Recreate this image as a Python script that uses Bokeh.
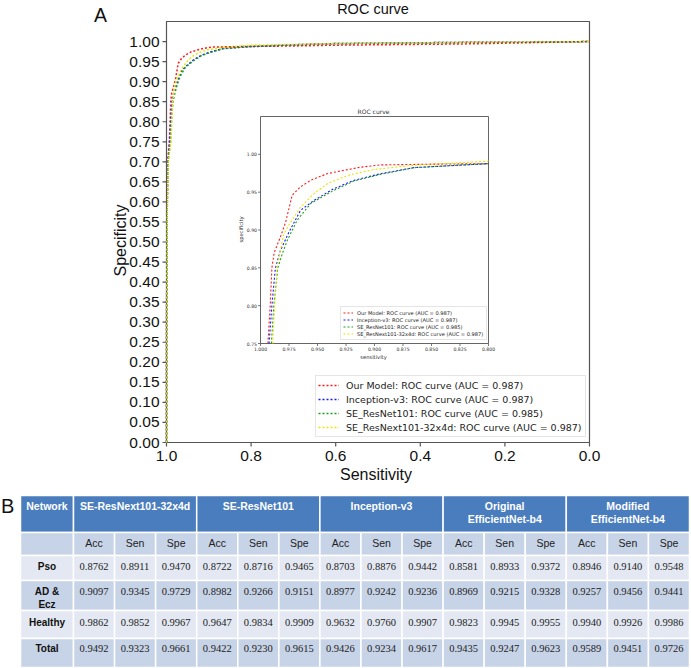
import numpy as np
from bokeh.plotting import figure
from bokeh.models import Range1d, Legend, LegendItem
from bokeh.embed import file_html
from bokeh.resources import INLINE
from bokeh.core.properties import value

# ---------------- data ----------------
model_names = ["Our Model", "Inception-v3", "SE_ResNet101", "SE_ResNext101-32x4d"]
model_auc = [0.987, 0.987, 0.985, 0.987]
model_colors = ["#ff1a1a", "#1a1aff", "#1f9f1f", "#e6e600"]

red_sens = [1.000, 0.9998, 0.9990, 0.9970, 0.9935, 0.9915, 0.9900, 0.9880, 0.9825, 0.9780, 0.9722,
            0.9650, 0.9560, 0.9415, 0.9298, 0.9123, 0.8947, 0.8500, 0.8000, 0.7000, 0.6000, 0.5000,
            0.4000, 0.3000, 0.2000, 0.1000, 0.0000]
red_spec = [0.000, 0.300, 0.550, 0.700, 0.750, 0.800, 0.850, 0.870, 0.891, 0.910, 0.946,
            0.957, 0.9656, 0.9744, 0.978, 0.983, 0.986, 0.9870, 0.9877, 0.989, 0.991, 0.992,
            0.993, 0.994, 0.996, 0.998, 1.000]

blue_sens = [1.000, 0.9998, 0.9990, 0.9965, 0.9925, 0.9900, 0.9870, 0.9825, 0.9751, 0.9649, 0.9532,
             0.9357, 0.9180, 0.8947, 0.8655, 0.8000, 0.7000, 0.6000, 0.5000, 0.4000, 0.3000, 0.2000,
             0.1000, 0.0000]
blue_spec = [0.000, 0.300, 0.550, 0.700, 0.750, 0.800, 0.849, 0.873, 0.897, 0.926, 0.939,
             0.9546, 0.9656, 0.9744, 0.9824, 0.9877, 0.992, 0.995, 0.996, 0.997, 0.998, 0.998,
             0.999, 1.000]

green_sens = [1.000, 0.9998, 0.9988, 0.9960, 0.9905, 0.9883, 0.9848, 0.9810, 0.9766, 0.9678, 0.9560,
              0.9357, 0.9180, 0.8947, 0.8655, 0.8000, 0.7000, 0.6000, 0.5000, 0.4000, 0.3000, 0.2000,
              0.1000, 0.0000]
green_spec = [0.000, 0.300, 0.550, 0.700, 0.750, 0.800, 0.850, 0.868, 0.886, 0.913, 0.935,
              0.9524, 0.9647, 0.9735, 0.9824, 0.9877, 0.992, 0.995, 0.996, 0.997, 0.998, 0.998,
              0.999, 1.000]

yellow_sens = [1.000, 0.9998, 0.9985, 0.9955, 0.9893, 0.9875, 0.9854, 0.9795, 0.9737, 0.9649, 0.9532,
               0.9415, 0.9240, 0.9006, 0.8655, 0.8000, 0.7000, 0.6000, 0.5000, 0.4000, 0.3000, 0.2000,
               0.1000, 0.0000]
yellow_spec = [0.000, 0.300, 0.550, 0.700, 0.750, 0.800, 0.851, 0.895, 0.910, 0.930, 0.948,
               0.961, 0.972, 0.980, 0.9855, 0.991, 0.993, 0.995, 0.996, 0.997, 0.998, 0.998,
               0.999, 1.000]

curves_sens = [red_sens, blue_sens, green_sens, yellow_sens]
curves_spec = [red_spec, blue_spec, green_spec, yellow_spec]

x_ticks = [1.0, 0.8, 0.6, 0.4, 0.2, 0.0]
y_ticks = [0.00, 0.05, 0.10, 0.15, 0.20, 0.25, 0.30, 0.35, 0.40, 0.45, 0.50,
           0.55, 0.60, 0.65, 0.70, 0.75, 0.80, 0.85, 0.90, 0.95, 1.00]
inset_x_ticks = [1.000, 0.975, 0.950, 0.925, 0.900, 0.875, 0.850, 0.825, 0.800]
inset_y_ticks = [0.75, 0.80, 0.85, 0.90, 0.95, 1.00]

networks = ["SE-ResNext101-32x4d", "SE-ResNet101", "Inception-v3",
            "Original\nEfficientNet-b4", "Modified\nEfficientNet-b4"]
metrics = ["Acc", "Sen", "Spe"]
classes = ["Pso", "AD &\nEcz", "Healthy", "Total"]
se_resnext101 = [[0.8762, 0.8911, 0.9470], [0.9097, 0.9345, 0.9729], [0.9862, 0.9852, 0.9967], [0.9492, 0.9323, 0.9661]]
se_resnet101 = [[0.8722, 0.8716, 0.9465], [0.8982, 0.9266, 0.9151], [0.9647, 0.9834, 0.9909], [0.9422, 0.9230, 0.9615]]
inception_v3 = [[0.8703, 0.8876, 0.9442], [0.8977, 0.9242, 0.9236], [0.9632, 0.9760, 0.9907], [0.9426, 0.9234, 0.9617]]
original_effb4 = [[0.8581, 0.8933, 0.9372], [0.8969, 0.9215, 0.9328], [0.9823, 0.9945, 0.9955], [0.9435, 0.9247, 0.9623]]
modified_effb4 = [[0.8946, 0.9140, 0.9548], [0.9257, 0.9456, 0.9441], [0.9940, 0.9926, 0.9986], [0.9589, 0.9451, 0.9726]]
table_values = [se_resnext101, se_resnet101, inception_v3, original_effb4, modified_effb4]

# ---------------- layout (pixel positions on the canvas) ----------------
CW, CH = 691, 668
FL, FR, FT, FB = 166, 589, 21, 442          # main plot box
XLIM = (1.0, 0.0)
YLIM = (0.0, 1.05)
IL, IR, IT, IB = 260, 488, 116, 343         # inset box
INSET_XLIM = (1.0, 0.8)
INSET_YLIM = (0.75, 1.05)

SANS = "Liberation Sans"
DJV = "DejaVu Sans"
AX_COL = "#555555"
TXT = "#111111"


def lin(m, a0, a1, b0, b1):
    return b0 + (m - a0) * (b1 - b0) / (a1 - a0)


PX_X = (FR - FL) / abs(XLIM[1] - XLIM[0])      # px per main unit
PX_Y = (FB - FT) / abs(YLIM[1] - YLIM[0])
IPX_X = (IR - IL) / abs(INSET_XLIM[1] - INSET_XLIM[0])
IPX_Y = (IB - IT) / abs(INSET_YLIM[1] - INSET_YLIM[0])

p = figure(width=CW, height=CH, min_border=0, output_backend="svg", toolbar_location=None,
           title=None, x_axis_location=None, y_axis_location=None,
           x_range=Range1d(lin(0, FL, FR, *XLIM), lin(CW, FL, FR, *XLIM)),
           y_range=Range1d(lin(CH, FB, FT, *YLIM), lin(0, FB, FT, *YLIM)))
p.grid.visible = False
p.outline_line_color = None
p.background_fill_color = "white"
p.extra_x_ranges = {"px": Range1d(0, CW),
                    "ix": Range1d(lin(0, IL, IR, *INSET_XLIM), lin(CW, IL, IR, *INSET_XLIM))}
p.extra_y_ranges = {"py": Range1d(CH, 0),
                    "iy": Range1d(lin(CH, IB, IT, *INSET_YLIM), lin(0, IB, IT, *INSET_YLIM))}
PK = dict(x_range_name="px", y_range_name="py")
IK = dict(x_range_name="ix", y_range_name="iy")

# ---------------- main axes ----------------
p.quad(left=[XLIM[0]], right=[XLIM[1]], bottom=[YLIM[0]], top=[YLIM[1]], fill_color=None,
       line_color=AX_COL, line_width=1.2)
p.segment(x0=[XLIM[0]] * len(y_ticks), y0=y_ticks, x1=[XLIM[0] + 4 / PX_X] * len(y_ticks), y1=y_ticks,
          line_color=AX_COL, line_width=1.2)
p.segment(x0=x_ticks, y0=[YLIM[0]] * len(x_ticks), x1=x_ticks, y1=[YLIM[0] - 4 / PX_Y] * len(x_ticks),
          line_color=AX_COL, line_width=1.2)
p.text(x=[XLIM[0] + 7 / PX_X] * len(y_ticks), y=y_ticks, text=["%.2f" % v for v in y_ticks],
       text_align="right", text_baseline="middle", text_font=value(SANS), text_font_size="15.5px",
       text_color=TXT)
p.text(x=x_ticks, y=[YLIM[0] - 8 / PX_Y] * len(x_ticks), text=["%.1f" % v for v in x_ticks],
       text_align="center", text_baseline="top", text_font=value(SANS), text_font_size="15.5px",
       text_color=TXT)

# titles / labels (pixel positions)
p.text(x=[372.5], y=[8.7], text=["ROC curve"], text_align="center", text_baseline="middle",
       text_font=value(SANS), text_font_size="14.5px", text_color=TXT, **PK)
p.text(x=[100], y=[14.5], text=["A"], text_align="center", text_baseline="middle",
       text_font=value(SANS), text_font_size="19.5px", text_color=TXT, **PK)
p.text(x=[375.5], y=[474], text=["Sensitivity"], text_align="center", text_baseline="middle",
       text_font=value(SANS), text_font_size="16px", text_color=TXT, **PK)
p.text(x=[120], y=[240], text=["Specificity"], text_align="center", text_baseline="middle", angle=np.pi / 2,
       text_font=value(SANS), text_font_size="16px", text_color=TXT, **PK)

# ---------------- main curves ----------------
main_renderers = []
for sens, spec, col in zip(curves_sens, curves_spec, model_colors):
    main_renderers.append(p.line(sens, spec, line_color=col, line_width=1.5, line_dash="2 2"))

# ---------------- inset ----------------
p.quad(left=[INSET_XLIM[0]], right=[INSET_XLIM[1]], bottom=[INSET_YLIM[0]], top=[INSET_YLIM[1]],
       fill_color="white", line_color="#666666", line_width=1, **IK)

inset_renderers = []
for sens, spec, col in zip(curves_sens, curves_spec, model_colors):
    keep = [(a, b) for a, b in zip(sens, spec) if a >= INSET_XLIM[1] and b >= INSET_YLIM[0]]
    inset_renderers.append(p.line([k[0] for k in keep], [k[1] for k in keep], line_color=col,
                                  line_width=1.1, line_dash="2 2", **IK))

p.segment(x0=[INSET_XLIM[0]] * len(inset_y_ticks), y0=inset_y_ticks,
          x1=[INSET_XLIM[0] + 2.5 / IPX_X] * len(inset_y_ticks), y1=inset_y_ticks,
          line_color=AX_COL, line_width=0.8, **IK)
p.segment(x0=inset_x_ticks, y0=[INSET_YLIM[0]] * len(inset_x_ticks),
          x1=inset_x_ticks, y1=[INSET_YLIM[0] - 2.5 / IPX_Y] * len(inset_x_ticks),
          line_color=AX_COL, line_width=0.8, **IK)
p.text(x=[INSET_XLIM[0] + 3.5 / IPX_X] * len(inset_y_ticks), y=inset_y_ticks,
       text=["%.2f" % v for v in inset_y_ticks], text_align="right", text_baseline="middle",
       text_font=value(DJV), text_font_size="4.6px", text_color="#333333", **IK)
p.text(x=inset_x_ticks, y=[INSET_YLIM[0] - 3.5 / IPX_Y] * len(inset_x_ticks),
       text=["%.3f" % v for v in inset_x_ticks], text_align="center", text_baseline="top",
       text_font=value(DJV), text_font_size="4.6px", text_color="#333333", **IK)
p.text(x=[373], y=[111], text=["ROC curve"], text_align="center", text_baseline="middle",
       text_font=value(DJV), text_font_size="6px", text_color="#333333", **PK)
p.text(x=[373], y=[356], text=["sensitivity"], text_align="center", text_baseline="middle",
       text_font=value(DJV), text_font_size="5.2px", text_color="#333333", **PK)
p.text(x=[240.5], y=[229], text=["specificity"], text_align="center", text_baseline="middle",
       angle=np.pi / 2, text_font=value(DJV), text_font_size="5.2px", text_color="#333333", **PK)

labels = ["%s: ROC curve (AUC = %.3f)" % (n, a) for n, a in zip(model_names, model_auc)]

inset_legend = Legend(items=[LegendItem(label=l, renderers=[r]) for l, r in zip(labels, inset_renderers)],
                      location=(340, CH - 340), label_text_font=DJV, label_text_font_size="5.1px",
                      label_text_color="#222222", label_height=7, glyph_height=7, glyph_width=10,
                      label_standoff=4, label_width=127, spacing=0, padding=2,
                      border_line_color="#cccccc", border_line_width=1,
                      background_fill_color="white", background_fill_alpha=1.0)
p.add_layout(inset_legend)

main_legend = Legend(items=[LegendItem(label=l, renderers=[r]) for l, r in zip(labels, main_renderers)],
                     location=(315, CH - 437), label_text_font=DJV, label_text_font_size="9.5px",
                     label_text_color="#222222", label_height=14, glyph_height=14, glyph_width=21,
                     label_standoff=7, label_width=237, spacing=0, padding=2,
                     border_line_color="#cccccc", border_line_width=1,
                     background_fill_color="white", background_fill_alpha=1.0)
p.add_layout(main_legend)

# ---------------- table ----------------
TX0, TX1 = 20.0, 689.0
TY0 = 495.0
NET_W = 53.0
SUB_W = (TX1 - TX0 - NET_W) / 15
ROW_EDGES = [TY0 + d for d in (0, 37, 60, 85, 115, 143, 172)]
ROW_TEXT_Y = [TY0 + d for d in (10, 47, 71, 96, 127, 153)]
LINE_H = 13
HEADER_BLUE = "#4a7dbd"
BAND_DARK = "#c7d3e7"
BAND_LIGHT = "#e3e8f2"

L, R, T, B, C = [], [], [], [], []


def cell(x0, x1, r0, r1, col):
    L.append(x0); R.append(x1); T.append(ROW_EDGES[r0]); B.append(ROW_EDGES[r1]); C.append(col)


def sub_x(k):
    return TX0 + NET_W + k * SUB_W


cell(TX0, TX0 + NET_W, 0, 1, HEADER_BLUE)
for g in range(len(networks)):
    cell(sub_x(3 * g), sub_x(3 * g + 3), 0, 1, HEADER_BLUE)
cell(TX0, TX0 + NET_W, 1, 2, BAND_DARK)
for k in range(15):
    cell(sub_x(k), sub_x(k + 1), 1, 2, BAND_DARK)
for ri in range(len(classes)):
    col = BAND_LIGHT if ri % 2 == 0 else BAND_DARK
    cell(TX0, TX0 + NET_W, ri + 2, ri + 3, col)
    for k in range(15):
        cell(sub_x(k), sub_x(k + 1), ri + 2, ri + 3, col)

p.quad(left=L, right=R, top=T, bottom=B, fill_color=C, line_color="white", line_width=1.5, **PK)

hx, hy, ht = [TX0 + NET_W / 2], [ROW_TEXT_Y[0]], ["Network"]
for g, name in enumerate(networks):
    for li, part in enumerate(name.split("\n")):
        hx.append((sub_x(3 * g) + sub_x(3 * g + 3)) / 2)
        hy.append(ROW_TEXT_Y[0] + li * LINE_H)
        ht.append(part)
p.text(x=hx, y=hy, text=ht, text_align="center", text_baseline="middle", text_font=value(SANS),
       text_font_style="bold", text_font_size="10.5px", text_color="white", **PK)

p.text(x=[(sub_x(k) + sub_x(k + 1)) / 2 for k in range(15)], y=[ROW_TEXT_Y[1]] * 15,
       text=[metrics[k % 3] for k in range(15)], text_align="center", text_baseline="middle",
       text_font=value(SANS), text_font_size="10.5px", text_color="#222222", **PK)

rx, ry, rt = [], [], []
for ri, name in enumerate(classes):
    for li, part in enumerate(name.split("\n")):
        rx.append(TX0 + NET_W / 2)
        ry.append(ROW_TEXT_Y[ri + 2] + li * LINE_H)
        rt.append(part)
p.text(x=rx, y=ry, text=rt, text_align="center", text_baseline="middle", text_font=value(SANS),
       text_font_style="bold", text_font_size="10px", text_color=TXT, **PK)

vx, vy, vt = [], [], []
for g, net_vals in enumerate(table_values):
    for ri, row in enumerate(net_vals):
        for m, v in enumerate(row):
            k = 3 * g + m
            vx.append((sub_x(k) + sub_x(k + 1)) / 2)
            vy.append(ROW_TEXT_Y[ri + 2])
            vt.append("%.4f" % v)
p.text(x=vx, y=vy, text=vt, text_align="center", text_baseline="middle",
       text_font=value("Liberation Serif"), text_font_size="10.5px", text_color="#222222", **PK)

p.text(x=[0.5], y=[505.5], text=["B"], text_align="left", text_baseline="middle", text_font=value(SANS),
       text_font_size="20px", text_color=TXT, **PK)

open("out.html", "w").write(file_html(p, INLINE))
